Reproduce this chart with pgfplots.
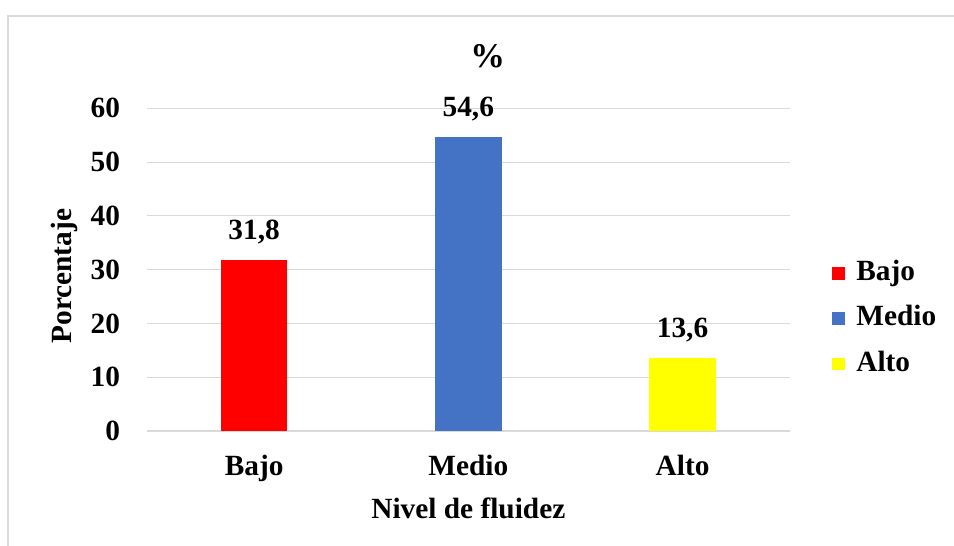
\documentclass[border=0pt]{standalone}
\usepackage{pgfplots}
\pgfplotsset{compat=1.18}
\usepackage{fontspec}
\setmainfont{Liberation Serif}
\definecolor{cred}{RGB}{255,0,0}
\definecolor{cblue}{RGB}{68,114,196}
\definecolor{cyellow}{RGB}{255,255,0}
\definecolor{cgrid}{RGB}{217,217,217}
\definecolor{cframe}{RGB}{217,217,217}
\begin{document}
\begin{tikzpicture}
\path[use as bounding box] (0,0) rectangle (715.5pt,409.5pt);
\draw[cframe, line width=1.2pt] (6pt,0) -- (6pt,397.5pt) -- (715.5pt,397.5pt);
\begin{axis}[
  at={(110.25pt,86.25pt)}, anchor=south west,
  scale only axis, width=482pt, height=242pt,
  ybar, bar width=50pt,
  xmin=-0.5, xmax=2.5, ymin=0, ymax=60,
  xtick={0,1,2}, xticklabels={Bajo,Medio,Alto},
  ytick={0,10,...,60},
  ymajorgrids, grid style={cgrid, line width=0.9pt},
  axis x line*=bottom, axis y line*=left,
  x axis line style={cgrid, line width=1.2pt, -},
  y axis line style={draw=none},
  major tick length=0pt,
  tick style={draw=none},
  /pgf/number format/assume math mode=true,
  ticklabel style={font=\fontsize{22}{26}\selectfont\bfseries},
  yticklabel style={anchor=east, inner sep=0pt, xshift=-20pt},
  xticklabel style={anchor=center, inner sep=0pt, text height=15pt, text depth=5pt, yshift=-28.75pt},
  xlabel={Nivel de fluidez}, ylabel={Porcentaje},
  label style={font=\fontsize{22}{26}\selectfont\bfseries},
  xlabel style={at={(axis description cs:0.5,-0.24)}, anchor=center},
  ylabel style={at={(axis description cs:-0.128,0.48)}, anchor=center},
  title={\%},
  title style={at={(axis description cs:0.53,1.138)}, anchor=center, font=\fontsize{26}{30}\selectfont\bfseries},
  nodes near coords,
  nodes near coords style={font=\fontsize{22}{26}\selectfont\bfseries, anchor=center, yshift=21pt,
    /pgf/number format/.cd, use comma, fixed, precision=1, fixed zerofill, assume math mode=true},
  legend style={at={(1.066,0.347)}, anchor=west, draw=none, fill=none,
    font=\fontsize{22}{26}\selectfont\bfseries,
    row sep=14pt, inner sep=0pt, column sep=0pt,
    nodes={inner sep=0pt, text height=15pt, text depth=5pt}},
  legend cell align=left,
  legend image code/.code={\fill[#1] (0pt,-4.5pt) rectangle (9.5pt,5pt); \path[draw=none,fill=none] (0pt,-4pt) rectangle (18pt,5pt);},
]
\addplot[fill=cred, draw=none, bar shift=0pt] coordinates {(0,31.8)};
\addplot[fill=cblue, draw=none, bar shift=0pt] coordinates {(1,54.6)};
\addplot[fill=cyellow, draw=none, bar shift=0pt] coordinates {(2,13.6)};
\legend{Bajo,Medio,Alto}
\end{axis}
\end{tikzpicture}
\end{document}
